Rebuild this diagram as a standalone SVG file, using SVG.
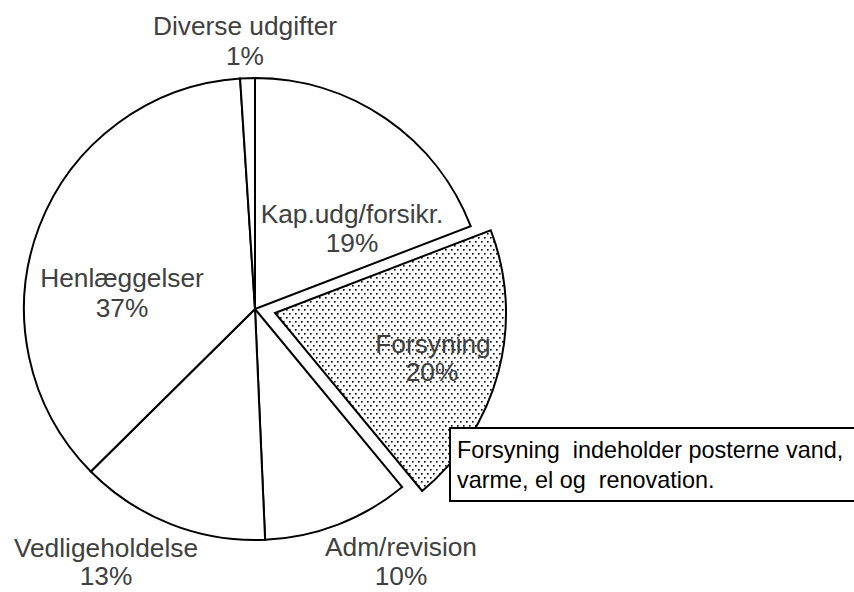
<svg xmlns="http://www.w3.org/2000/svg" width="854" height="592" viewBox="0 0 854 592">
<style>
.slice{fill:#fff;stroke:#000;stroke-width:2;stroke-linejoin:miter}
.lbl{font-family:"Liberation Sans",Arial,sans-serif;font-size:26.3px;fill:#404040;text-anchor:middle}
.note{font-family:"Liberation Sans",Arial,sans-serif;font-size:23.4px;fill:#000}
</style>
<defs>
<pattern id="dots" width="6" height="8" patternUnits="userSpaceOnUse">
<rect width="6" height="8" fill="#fff"/>
<rect x="1" y="1" width="1.6" height="1.6" fill="#000"/>
<rect x="4" y="5" width="1.6" height="1.6" fill="#000"/>
</pattern>
</defs>
<rect width="854" height="592" fill="#fff"/>
<g id="slice-kap"><path class="slice" d="M255,309 L255,78 A231,231 0 0 1 470.7,226.2 Z"/></g>
<g id="slice-forsyning"><path class="slice" style="fill:url(#dots)" d="M275,313 L490.7,230.2 A231,231 0 0 1 422.2,491 Z"/></g>
<g id="slice-adm"><path class="slice" d="M255,309 L402.2,487 A231,231 0 0 1 265.1,539.8 Z"/></g>
<g id="slice-vedlige"><path class="slice" d="M255,309 L265.1,539.8 A231,231 0 0 1 90.8,471.5 Z"/></g>
<g id="slice-henlaeg"><path class="slice" d="M255,309 L90.8,471.5 A231,231 0 0 1 240.1,78.5 Z"/></g>
<g id="slice-diverse"><path class="slice" d="M255,309 L240.1,78.5 A231,231 0 0 1 255,78 Z"/></g>
<g id="labels">
<text class="lbl" x="245" y="35">Diverse udgifter</text>
<text class="lbl" x="245" y="65">1%</text>
<text class="lbl" x="352" y="223">Kap.udg/forsikr.</text>
<text class="lbl" x="352" y="252">19%</text>
<text class="lbl" x="122" y="287">Henlæggelser</text>
<text class="lbl" x="122" y="317">37%</text>
<text class="lbl" x="433" y="353">Forsyning</text>
<text class="lbl" x="432" y="381">20%</text>
<text class="lbl" x="401" y="556">Adm/revision</text>
<text class="lbl" x="401" y="585">10%</text>
<text class="lbl" x="106" y="557">Vedligeholdelse</text>
<text class="lbl" x="106" y="585">13%</text>
</g>
<g id="note">
<rect x="450" y="428" width="410" height="73" fill="#fff" stroke="#000" stroke-width="2"/>
<text class="note" x="457" y="458" xml:space="preserve">Forsyning  indeholder posterne vand,</text>
<text class="note" x="457" y="488" xml:space="preserve">varme, el og  renovation.</text>
</g>
</svg>
